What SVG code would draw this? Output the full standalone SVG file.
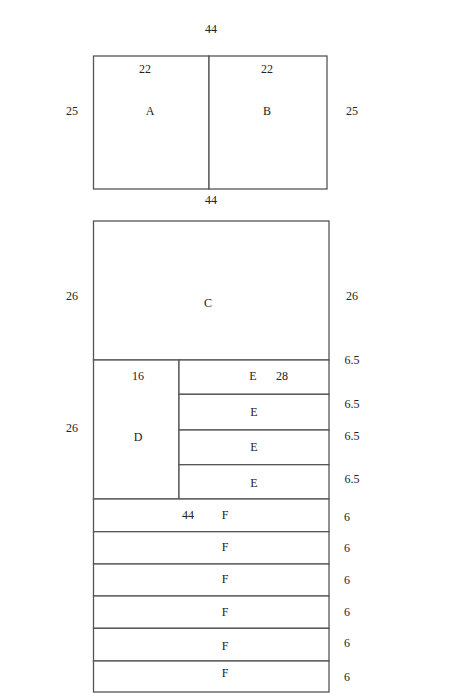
<svg xmlns="http://www.w3.org/2000/svg" width="450" height="700" viewBox="0 0 450 700">
<style>
rect{fill:#fff;stroke:#555;stroke-width:1.3}
text{font-family:"Liberation Serif","DejaVu Serif",serif;font-size:12px;fill:#222;text-anchor:middle;dominant-baseline:central}
</style>
<rect x="0" y="0" width="450" height="700" style="stroke:none"/>
<g id="A"><rect x="93.5" y="56" width="115.5" height="133"/><text x="145" y="69">22</text><text x="150" y="111">A</text></g>
<g id="B"><rect x="209" y="56" width="118" height="133"/><text x="267" y="69">22</text><text x="267" y="111">B</text></g>
<g id="C"><rect x="93.5" y="221" width="235.5" height="139"/><text x="208" y="303">C</text></g>
<g id="D"><rect x="93.5" y="360" width="85.5" height="139"/><text x="138" y="376">16</text><text x="138" y="437">D</text></g>
<g id="E1"><rect x="179" y="360" width="150" height="34.3"/><text x="253" y="376">E</text><text x="282" y="376">28</text></g>
<g id="E2"><rect x="179" y="394.3" width="150" height="35.7"/><text x="254" y="412">E</text></g>
<g id="E3"><rect x="179" y="430" width="150" height="34.7"/><text x="254" y="447">E</text></g>
<g id="E4"><rect x="179" y="464.7" width="150" height="34.3"/><text x="254" y="483">E</text></g>
<g id="F1"><rect x="93.5" y="499" width="235.5" height="32.7"/><text x="188" y="515">44</text><text x="225" y="515">F</text></g>
<g id="F2"><rect x="93.5" y="531.7" width="235.5" height="32.3"/><text x="225" y="547">F</text></g>
<g id="F3"><rect x="93.5" y="564" width="235.5" height="32"/><text x="225" y="579">F</text></g>
<g id="F4"><rect x="93.5" y="596" width="235.5" height="32.3"/><text x="225" y="612">F</text></g>
<g id="F5"><rect x="93.5" y="628.3" width="235.5" height="32.7"/><text x="225" y="646">F</text></g>
<g id="F6"><rect x="93.5" y="661" width="235.5" height="31"/><text x="225" y="673">F</text></g>
<g id="labels">
<text x="211" y="29">44</text>
<text x="211" y="200">44</text>
<text x="72" y="111">25</text><text x="352" y="111">25</text>
<text x="72" y="296">26</text><text x="352" y="296">26</text>
<text x="72" y="428">26</text>
<text x="352" y="360">6.5</text><text x="352" y="404">6.5</text><text x="352" y="436">6.5</text><text x="352" y="479">6.5</text>
<text x="347" y="517">6</text><text x="347" y="548">6</text><text x="347" y="580">6</text><text x="347" y="612">6</text><text x="347" y="643">6</text><text x="347" y="677">6</text>
</g>
</svg>
